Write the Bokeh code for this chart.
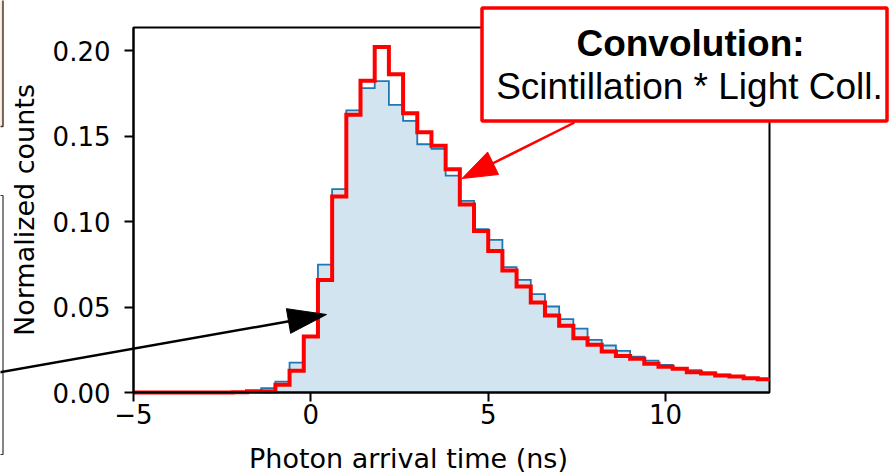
import numpy as np
from bokeh.plotting import figure
from bokeh.models import (Range1d, FixedTicker, CustomJSTickFormatter, NumeralTickFormatter,
                          BoxAnnotation, Label, Arrow)
from bokeh.embed import file_html
from bokeh.resources import INLINE

# ---------------- data ----------------
bin_start = -5.0
bin_width = 0.4
# blue: measured scintillation histogram (filled)
scint_counts = [0.0, 0.0, 0.0, 0.0, 0.0, 0.0, 0.0001, 0.0003, 0.0010, 0.0025,
                0.0064, 0.0175, 0.0330, 0.0748, 0.1190, 0.1650, 0.1780, 0.1821,
                0.1682, 0.1589, 0.1452, 0.1425, 0.1269, 0.1121, 0.0955, 0.0893,
                0.0733, 0.0659, 0.0575, 0.0503, 0.0429, 0.0374, 0.0308, 0.0275,
                0.0244, 0.0210, 0.0186, 0.0162, 0.0140, 0.0131, 0.0117, 0.0104,
                0.0094, 0.0085, 0.0077]
# red: convolution scintillation * light collection
conv_counts = [0.0, 0.0, 0.0, 0.0, 0.0, 0.0, 0.0, 0.0002, 0.0008, 0.0006,
               0.0045, 0.0127, 0.0327, 0.0658, 0.1146, 0.1624, 0.1823, 0.2021,
               0.1862, 0.1634, 0.1522, 0.1444, 0.1306, 0.1100, 0.0944, 0.0828,
               0.0713, 0.0620, 0.0526, 0.0450, 0.0390, 0.0318, 0.0279, 0.0240,
               0.0214, 0.0197, 0.0168, 0.0150, 0.0139, 0.0118, 0.0111, 0.0100,
               0.0093, 0.0084, 0.0077]
x_ticks = [-5, 0, 5, 10]
y_ticks = [0.0, 0.05, 0.10, 0.15, 0.20]
x_label = "Photon arrival time (ns)"
y_label = "Normalized counts"
box_title = "Convolution:"
box_text = "Scintillation * Light Coll."

# ---------------- layout ----------------
W, H = 889, 474
FL, FR, FT, FB = 133, 769, 27, 392      # axes box edges in pixels
X0, X1 = -5.0, 12.93                     # visible data range
Y0, Y1 = 0.0, 0.2135


def sx(px):
    return X0 + (px - FL) * (X1 - X0) / (FR - FL)


def sy(py):
    return Y0 + (FB - py) * (Y1 - Y0) / (FB - FT)


edges = [min(bin_start + bin_width * i, X1) for i in range(len(scint_counts) + 1)]
scint_step = scint_counts + [scint_counts[-1]]
conv_step = conv_counts + [conv_counts[-1]]

# the frame covers the whole canvas; axes are pinned at the axes-box edges
p = figure(width=W, height=H, x_range=Range1d(sx(0), sx(W)), y_range=Range1d(sy(H), sy(0)),
           output_backend="svg", toolbar_location=None,
           min_border_left=0, min_border_right=0, min_border_top=0, min_border_bottom=0)

p.background_fill_color = "white"
p.border_fill_color = "white"
p.outline_line_color = None
p.grid.visible = False

# decorations on the left (parts of other slide objects)
p.add_layout(BoxAnnotation(left=sx(-10), right=sx(2.5), top=sy(-10), bottom=sy(126),
                           fill_color="#fbe3cf", fill_alpha=1,
                           line_color="#4a3c30", line_alpha=1, line_width=1.5,
                           level="underlay"))
p.add_layout(BoxAnnotation(left=sx(-10), right=sx(2.5), top=sy(195), bottom=sy(454),
                           fill_color="white", fill_alpha=1,
                           line_color="#333333", line_alpha=1, line_width=1.2,
                           level="underlay"))

# histograms
p.varea_step(x=edges, y1=[0] * len(edges), y2=scint_step, step_mode="after",
             fill_color="#d2e4f0")
p.step(x=edges, y=scint_step, mode="after", line_color="#1f77b4", line_width=1.8,
       line_join="miter")

# axes box (spines)
p.quad(left=[X0], right=[X1], bottom=[Y0], top=[Y1], fill_color=None,
       line_color="black", line_width=2)

p.step(x=edges, y=conv_step, mode="after", line_color="#ff0000", line_width=4,
       line_join="miter")

# axes
p.xaxis.fixed_location = Y0
p.yaxis.fixed_location = X0
p.xaxis.bounds = (X0, X1)
p.yaxis.bounds = (Y0, Y1)
p.xaxis.ticker = FixedTicker(ticks=x_ticks)
p.xaxis.formatter = CustomJSTickFormatter(
    code="return tick < 0 ? '\u2212' + Math.abs(tick) : String(tick);")
p.yaxis.ticker = FixedTicker(ticks=y_ticks)
p.yaxis.formatter = NumeralTickFormatter(format="0.00")
p.axis.minor_tick_line_color = None
p.axis.major_tick_out = 9
p.axis.major_tick_in = 0
p.axis.major_tick_line_width = 2
p.axis.major_tick_line_color = "black"
p.axis.axis_line_width = 2
p.axis.axis_line_color = "black"
p.axis.major_label_text_font = "DejaVu Sans"
p.axis.major_label_text_font_size = "26px"
p.axis.major_label_text_color = "black"
p.axis.axis_label_text_font = "DejaVu Sans"
p.axis.axis_label_text_font_size = "27px"
p.axis.axis_label_text_font_style = "normal"
p.axis.axis_label_text_color = "black"
p.yaxis.axis_label = y_label
p.xaxis.major_label_standoff = 2
p.yaxis.major_label_standoff = 14
p.yaxis.axis_label_standoff = 10

# x-axis title (placed as in the reference, left of the axes centre)
p.add_layout(Label(x=sx(408), y=sy(442), text=x_label, text_align="center",
                   text_baseline="top", text_font="DejaVu Sans",
                   text_font_size="27px", text_color="black"))

# arrows
def head(tip, base, half_w):
    tx, ty = tip
    bx, by = base
    dx, dy = tx - bx, ty - by
    L = (dx * dx + dy * dy) ** 0.5
    nx, ny = -dy / L, dx / L
    pts = [(tx, ty), (bx + nx * half_w, by + ny * half_w), (bx - nx * half_w, by - ny * half_w)]
    return [sx(a) for a, b in pts], [sy(b) for a, b in pts]


p.add_layout(Arrow(x_start=sx(-2), y_start=sy(372), x_end=sx(290), y_end=sy(320.5),
                   end=None, line_color="black", line_width=2.5))
hx, hy = head((326, 314), (288, 320.5), 12.5)
p.patch(hx, hy, fill_color="black", line_color="black", line_width=1)

p.add_layout(Arrow(x_start=sx(574), y_start=sy(122), x_end=sx(490), y_end=sy(164),
                   end=None, line_color="#ff0000", line_width=2.5))
hx, hy = head((461.5, 178), (492.6, 162.8), 12.5)
p.patch(hx, hy, fill_color="#ff0000", line_color="#ff0000", line_width=1)

# annotation box
p.add_layout(BoxAnnotation(left=sx(481.5), right=sx(886.5), top=sy(7.5), bottom=sy(120.5),
                           fill_color="white", fill_alpha=1,
                           line_color="#ff0000", line_alpha=1, line_width=3.5))
p.add_layout(Label(x=sx(690), y=sy(43), text=box_title, text_align="center",
                   text_baseline="alphabetic", text_font="Liberation Sans",
                   text_font_style="bold", text_font_size="37px", text_color="black"))
p.add_layout(Label(x=sx(689), y=sy(86), text=box_text, text_align="center",
                   text_baseline="alphabetic", text_font="Liberation Sans",
                   text_font_size="37px", text_color="black"))

open("out.html", "w").write(file_html(p, INLINE))
